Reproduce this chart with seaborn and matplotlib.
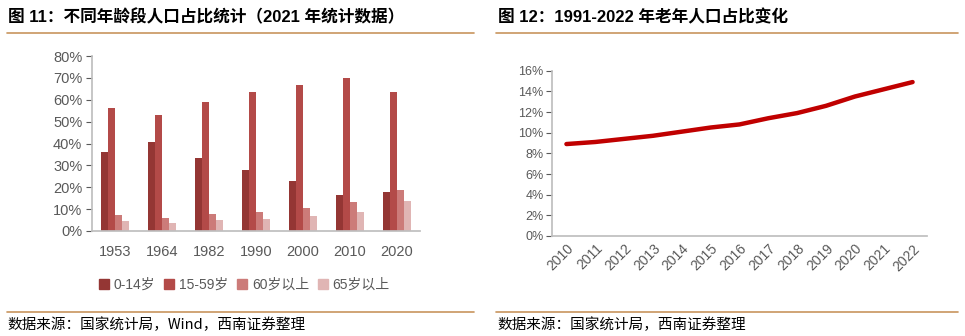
import matplotlib
matplotlib.use("Agg")
import matplotlib.pyplot as plt
import matplotlib.lines as mlines
import seaborn as sns
import pandas as pd

# ---- data ----
census_years = ["1953", "1964", "1982", "1990", "2000", "2010", "2020"]
age_groups = ["0-14岁", "15-59岁", "60岁以上", "65岁以上"]
share_0_14 = [36.3, 40.7, 33.6, 27.7, 22.9, 16.6, 18.0]
share_15_59 = [56.4, 53.2, 58.8, 63.7, 66.8, 70.1, 63.4]
share_60_plus = [7.4, 6.1, 7.6, 8.5, 10.3, 13.3, 18.7]
share_65_plus = [4.4, 3.6, 4.9, 5.6, 7.0, 8.9, 13.5]

line_years = ["2010", "2011", "2012", "2013", "2014", "2015", "2016",
              "2017", "2018", "2019", "2020", "2021", "2022"]
elderly_share = [8.9, 9.1, 9.4, 9.7, 10.1, 10.5, 10.8, 11.4, 11.9, 12.6, 13.5, 14.2, 14.9]

left_yticks = [0, 10, 20, 30, 40, 50, 60, 70, 80]
right_yticks = [0, 2, 4, 6, 8, 10, 12, 14, 16]

title_left = "图 11：不同年龄段人口占比统计（2021 年统计数据）"
title_right = "图 12：1991-2022 年老年人口占比变化"
source_left = "数据来源：国家统计局，Wind，西南证券整理"
source_right = "数据来源：国家统计局，西南证券整理"

bar_colors = ["#943634", "#B34A48", "#CC7B79", "#E0B5B4"]
line_color = "#C00000"
rule_color = "#C8955E"
tick_color = "#595959"
spine_color = "#BFBFBF"

sns.set_theme(style="white")
plt.rcParams["font.family"] = ["Liberation Sans", "Noto Sans CJK SC", "DejaVu Sans"]

fig = plt.figure(figsize=(9.65, 3.36), dpi=100)

# ---- left: grouped bars ----
df_bar = pd.DataFrame({
    "year": census_years * 4,
    "group": sum([[g] * len(census_years) for g in age_groups], []),
    "value": share_0_14 + share_15_59 + share_60_plus + share_65_plus,
})
axL = fig.add_axes([92 / 965, 1 - 231 / 336, 328 / 965, 175 / 336])
sns.barplot(data=df_bar, x="year", y="value", hue="group", hue_order=age_groups,
            palette=bar_colors, width=0.6, gap=0, saturation=1, ax=axL,
            legend=False, errorbar=None, linewidth=0, edgecolor="none")
axL.set_ylim(0, 80)
axL.set_xlim(-0.5, 6.5)
axL.set_yticks(left_yticks)
axL.set_yticklabels([f"{v}%" for v in left_yticks])
axL.set_xlabel("")
axL.set_ylabel("")
for s in ["top", "right"]:
    axL.spines[s].set_visible(False)
axL.spines["left"].set_color(spine_color)
axL.spines["bottom"].set_color(spine_color)
axL.tick_params(axis="y", colors=tick_color, labelsize=10.5, length=4, width=0.8,
                direction="out", left=True, pad=3)
axL.tick_params(axis="x", colors=tick_color, labelsize=10.5, length=0, pad=10)
for lab in axL.get_yticklabels() + axL.get_xticklabels():
    lab.set_color(tick_color)

handles = [mlines.Line2D([], [], marker="s", linestyle="none", markersize=7,
                         markerfacecolor=c, markeredgecolor=c) for c in bar_colors]
fig.legend(handles, age_groups, loc="center left", bbox_to_anchor=(86 / 965, 1 - 285 / 336),
           ncol=4, frameon=False, fontsize=10, handlelength=0.8, handletextpad=0.3,
           columnspacing=0.6, labelcolor=tick_color)

# ---- right: line ----
df_line = pd.DataFrame({"year": line_years, "value": elderly_share})
axR = fig.add_axes([552 / 965, 1 - 236 / 336, 375 / 965, 165.3 / 336])
sns.lineplot(data=df_line, x="year", y="value", color=line_color, linewidth=3.2,
             ax=axR, sort=False)
axR.set_ylim(0, 16)
axR.set_xlim(-0.5, 12.5)
axR.set_yticks(right_yticks)
axR.set_yticklabels([f"{v}%" for v in right_yticks])
axR.set_xlabel("")
axR.set_ylabel("")
for s in ["top", "right"]:
    axR.spines[s].set_visible(False)
axR.spines["left"].set_color(spine_color)
axR.spines["bottom"].set_color(spine_color)
axR.tick_params(axis="y", colors=tick_color, labelsize=9, length=4, width=0.8,
                direction="out", left=True, pad=2)
axR.tick_params(axis="x", colors=tick_color, labelsize=10, length=0, pad=4)
for lab in axR.get_xticklabels():
    lab.set_rotation(45)
    lab.set_ha("right")
    lab.set_rotation_mode("anchor")

# ---- titles, rules, sources ----
cjk_bold = ["Liberation Sans", "Noto Sans CJK SC"]
fig.text(8 / 965, 1 - 17 / 336, title_left, fontsize=12, fontweight="bold",
         color="black", va="center", ha="left", family=cjk_bold)
fig.text(498 / 965, 1 - 17 / 336, title_right, fontsize=12, fontweight="bold",
         color="black", va="center", ha="left", family=cjk_bold)

for x0, x1 in [(7, 474), (496, 958)]:
    for y in [33, 311.5]:
        fig.add_artist(mlines.Line2D([x0 / 965, x1 / 965], [1 - y / 336, 1 - y / 336],
                                     color=rule_color, linewidth=1.2))

fig.text(7 / 965, 1 - 325 / 336, source_left, fontsize=10.5, style="italic",
         color="black", va="center", ha="left", family=["Noto Sans CJK SC", "DejaVu Sans"])
fig.text(497 / 965, 1 - 325 / 336, source_right, fontsize=10.5, style="italic",
         color="black", va="center", ha="left", family=["Noto Sans CJK SC", "DejaVu Sans"])

fig.savefig("out.png", dpi=100)
